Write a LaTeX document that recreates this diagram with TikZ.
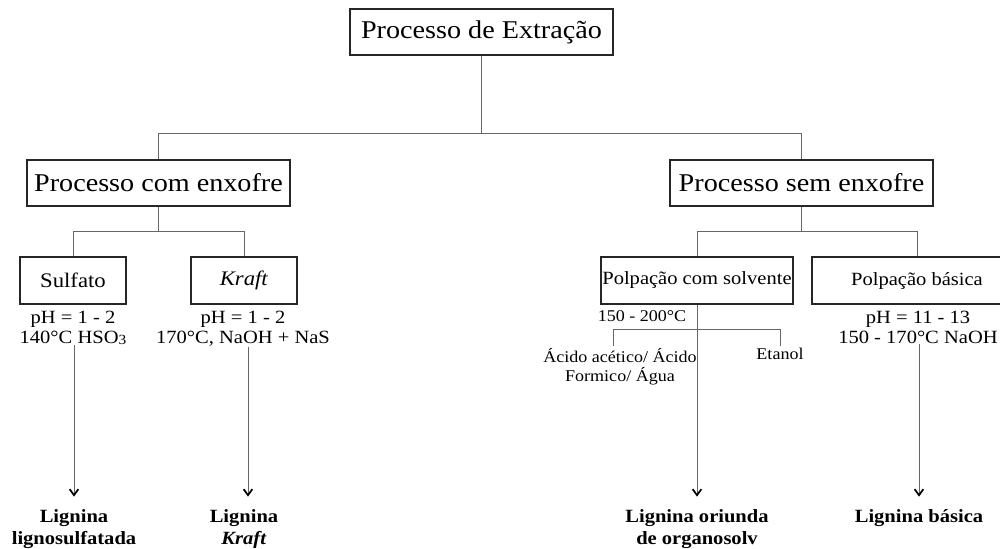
\documentclass[tikz,border=0pt]{standalone}
\usepackage{fontspec}
\setmainfont{Liberation Serif}[FakeStretch=1.1]
\usetikzlibrary{arrows.meta}
\begin{document}
\begin{tikzpicture}[x=0.75pt,y=-0.75pt,
  box/.style={draw=black!85, line width=0.8pt, inner sep=0pt, align=center, text=black},
  bigbox/.style={box, minimum width=263*0.75pt, minimum height=46*0.75pt, font=\fontsize{19.2}{23}\selectfont},
  midbox/.style={box, minimum height=47*0.75pt, font=\fontsize{15.5}{18}\selectfont},
  smallbox/.style={box, minimum height=47*0.75pt, font=\fontsize{14}{17}\selectfont},
  info/.style={inner sep=0pt, align=center, font=\fontsize{14}{15}\selectfont, anchor=north},
  sub/.style={inner sep=1.5pt, align=center, font=\fontsize{12.3}{14}\selectfont, anchor=north},
  result/.style={inner sep=0pt, align=center, font=\fontsize{14}{16.5}\selectfont\bfseries, anchor=north},
  conn/.style={draw=black!60, line width=0.75pt},
  arr/.style={conn, -{Straight Barb[length=4.5pt,width=6.5pt,line width=1.3pt,color=black,sep=2.5pt]}}
]
\useasboundingbox (0,0) rectangle (1000,549);

% level 0
\node[bigbox] (top) at (481.5,32) {Processo de Extração};
% level 1
\node[bigbox] (com) at (158.5,183) {Processo com enxofre};
\node[bigbox] (sem) at (801.5,183) {Processo sem enxofre};
% level 2
\node[midbox, minimum width=106*0.75pt] (sulf) at (73,280.5) {Sulfato};
\node[midbox, minimum width=106*0.75pt] (kraft) at (244,280.5) {\textit{Kraft}};
\node[smallbox, minimum width=192*0.75pt] (solv) at (697,280.5) {Polpação com solvente};
\node[smallbox, minimum width=210*0.75pt] (basica) at (917,280.5) {Polpação básica};

% junctions
\coordinate (j1) at (481.5,134);
\coordinate (j2) at (158.5,232);
\coordinate (j3) at (801.5,232);
\coordinate (j4) at (697,329);

\draw[conn] (top) -- (j1);
\draw[conn] (j1) -| (com);
\draw[conn] (j1) -| (sem);
\draw[conn] (com) -- (j2);
\draw[conn] (j2) -| (sulf);
\draw[conn] (j2) -| (kraft);
\draw[conn] (sem) -- (j3);
\draw[conn] (j3) -| (solv);
\draw[conn] (j3) -| (basica);

% conditions
\node[info] (sulfinfo) at (73,311) {pH = 1 - 2\\140°C HSO\raisebox{-0.8pt}{\fontsize{10.5}{11}\selectfont 3}};
\node[info] (kraftinfo) at (243,311) {pH = 1 - 2\\170°C, NaOH + NaS};
\node[sub, inner sep=0pt] (solvtemp) at (642,310) {150 - 200°C};
\node[info] (basinfo) at (918,311) {pH = 11 - 13\\150 - 170°C NaOH};

\node[sub] (acido) at (620,346) {Ácido acético/ Ácido\\Formico/ Água};
\node[sub] (etanol) at (780,346) {Etanol};
\draw[conn] (j4) -| ([xshift=-5.25pt]acido.north);
\draw[conn] (j4) -| (etanol.north);

% arrow ends
\coordinate (a1) at (74,500);
\coordinate (a2) at (248,500);
\coordinate (a3) at (697,500);
\coordinate (a4) at (919,500);

\draw[arr] (sulfinfo.south -| a1) -- (a1);
\draw[arr] (kraftinfo.south -| a2) -- (a2);
\draw[arr] (solv.south -| a3) -- (a3);
\draw[arr] (basinfo.south -| a4) -- (a4);

% results
\node[result] (r1) at (74,509) {Lignina\\lignosulfatada};
\node[result] (r2) at (244,509) {Lignina\\\textit{Kraft}};
\node[result] (r3) at (697,509) {Lignina oriunda\\de organosolv};
\node[result] (r4) at (919,509) {Lignina básica};
\end{tikzpicture}
\end{document}
